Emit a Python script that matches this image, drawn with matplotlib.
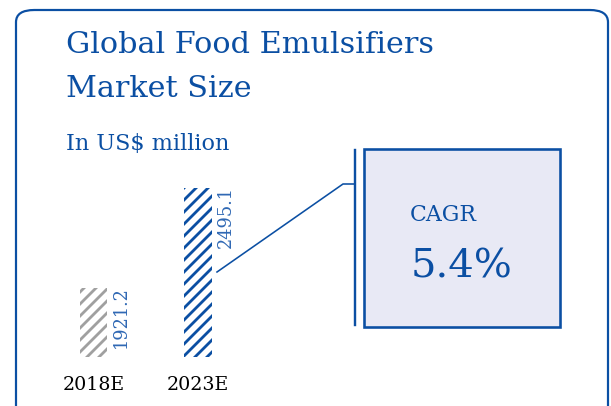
import matplotlib
matplotlib.use("Agg")
import matplotlib.pyplot as plt
from matplotlib.patches import FancyBboxPatch, Rectangle
from matplotlib.lines import Line2D

categories = ["2018E", "2023E"]
values = [1921.2, 2495.1]
value_labels = ["1921.2", "2495.1"]
title_lines = ["Global Food Emulsifiers", "Market Size"]
subtitle = "In US$ million"
cagr_label = "CAGR"
cagr_value = "5.4%"

BLUE = "#0b4fa3"
LBLUE = "#2f68b4"
GRAY = "#a0a0a0"
W, H = 611, 406
DPI = 72  # 1 pt == 1 px

plt.rcParams['font.family'] = ['DejaVu Serif']
plt.rcParams['hatch.linewidth'] = 2.8

fig = plt.figure(figsize=(W / DPI, H / DPI), dpi=DPI)

def fx(x):
    return x / W

def fy(y):
    return (H - y) / H

# outer rounded frame
frame = FancyBboxPatch((fx(16), fy(440)), fx(592), (440 - 10) / H,
                       boxstyle="round,pad=0,rounding_size=0.03",
                       transform=fig.transFigure, fill=False,
                       edgecolor=BLUE, linewidth=2.2)
fig.add_artist(frame)

fig.text(fx(66), fy(53), title_lines[0], color=BLUE, fontsize=30.3,
         va='baseline', ha='left')
fig.text(fx(66), fy(97), title_lines[1], color=BLUE, fontsize=30.3,
         va='baseline', ha='left')
fig.text(fx(66), fy(150), subtitle, color=BLUE, fontsize=22.4,
         va='baseline', ha='left')

# bar axes
ax = fig.add_axes([fx(41.25), fy(357), fx(250.25) - fx(41.25), fy(150) - fy(357)])
ax.set_xlim(-0.5, 1.5)
ax.set_ylim(1525, 2713)
colors = [GRAY, BLUE]
bars = ax.bar(range(len(categories)), values, width=0.26, bottom=0,
              color='none', edgecolor=colors, linewidth=0, hatch='//')
for i, (v, lab) in enumerate(zip(values, value_labels)):
    ax.annotate(lab, (i + 0.13, v), xytext=(5, 2), textcoords='offset points',
                rotation=90, ha='left', va='top', color=LBLUE, fontsize=17.8)
ax.set_xticks(range(len(categories)))
ax.set_xticklabels(categories, fontsize=19, color='black')
ax.tick_params(axis='x', length=0, pad=19)
ax.set_yticks([])
for s in ax.spines.values():
    s.set_visible(False)
ax.patch.set_visible(False)

# connector
fig.add_artist(Line2D([fx(217), fx(343), fx(355)], [fy(272), fy(184), fy(184)],
                      transform=fig.transFigure, color=BLUE, linewidth=1.6))
fig.add_artist(Line2D([fx(355), fx(355)], [fy(150), fy(325)],
                      transform=fig.transFigure, color=BLUE, linewidth=2.4))

# CAGR box
fig.add_artist(Rectangle((fx(364), fy(327)), fx(560) - fx(364), fy(149) - fy(327),
                         transform=fig.transFigure, facecolor="#e8e9f5",
                         edgecolor=BLUE, linewidth=2.6))
fig.text(fx(410), fy(221), cagr_label, color=BLUE, fontsize=22,
         va='baseline', ha='left')
fig.text(fx(411), fy(277), cagr_value, color=BLUE, fontsize=40,
         va='baseline', ha='left')

fig.savefig("out.png", dpi=DPI)
